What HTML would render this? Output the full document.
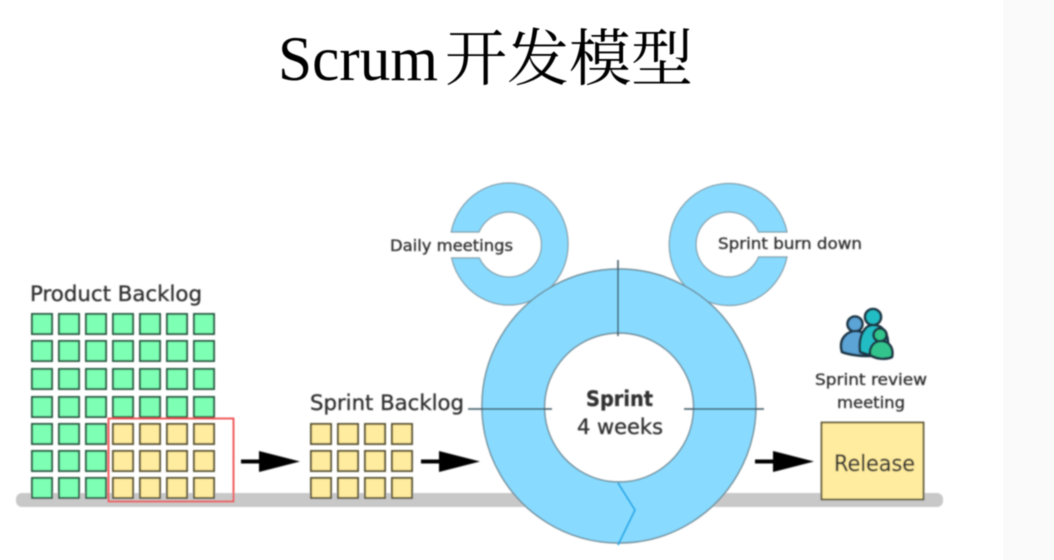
<!DOCTYPE html>
<html><head><meta charset="utf-8"><style>
html,body{margin:0;padding:0;background:#fff;width:1054px;height:560px;overflow:hidden}
svg{display:block}
text{font-family:"DejaVu Sans","Liberation Sans",sans-serif;fill:#333;stroke:#333;stroke-width:.35}
</style></head><body>
<svg width="1054" height="560" viewBox="0 0 1054 560" xmlns="http://www.w3.org/2000/svg">
<defs>
<filter id="b" x="-5%" y="-5%" width="110%" height="110%"><feGaussianBlur stdDeviation="0.7"/></filter>
<filter id="t" x="-5%" y="-5%" width="110%" height="110%"><feGaussianBlur stdDeviation="0.45"/></filter>
<g id="g"><rect x="1" y="1" width="20" height="20" fill="#7dffb4" stroke="#2a5a44" stroke-width="2"/></g>
<g id="y"><rect x="1" y="1" width="20" height="20" fill="#ffec9e" stroke="#5a5536" stroke-width="2"/></g>
<path id="ar" d="M0 -2H18V-10.500L59 0L18 10.500V2H0Z" fill="#000"/>
</defs>
<rect x="1003" y="0" width="51" height="560" fill="#fafafa"/>
<g filter="url(#t)">
<text x="278" y="80" style="font-family:'Liberation Serif',serif;fill:#000;stroke:none" font-size="64" textLength="160" lengthAdjust="spacingAndGlyphs">Scrum</text>
<text x="445" y="80" style="font-family:'Noto Serif CJK SC',serif;fill:#000;stroke:none" font-size="62" textLength="248" lengthAdjust="spacingAndGlyphs">开发模型</text>
</g>
<g filter="url(#b)">
<rect x="16" y="493" width="927" height="14" rx="6" fill="#c8c8c8"/>
<g>
<use href="#g" x="31" y="313"/><use href="#g" x="58" y="313"/><use href="#g" x="85" y="313"/><use href="#g" x="112" y="313"/><use href="#g" x="139" y="313"/><use href="#g" x="166" y="313"/><use href="#g" x="193" y="313"/>
<use href="#g" x="31" y="340"/><use href="#g" x="58" y="340"/><use href="#g" x="85" y="340"/><use href="#g" x="112" y="340"/><use href="#g" x="139" y="340"/><use href="#g" x="166" y="340"/><use href="#g" x="193" y="340"/>
<use href="#g" x="31" y="368"/><use href="#g" x="58" y="368"/><use href="#g" x="85" y="368"/><use href="#g" x="112" y="368"/><use href="#g" x="139" y="368"/><use href="#g" x="166" y="368"/><use href="#g" x="193" y="368"/>
<use href="#g" x="31" y="396"/><use href="#g" x="58" y="396"/><use href="#g" x="85" y="396"/><use href="#g" x="112" y="396"/><use href="#g" x="139" y="396"/><use href="#g" x="166" y="396"/><use href="#g" x="193" y="396"/>
<use href="#g" x="31" y="423"/><use href="#g" x="58" y="423"/><use href="#g" x="85" y="423"/>
<use href="#g" x="31" y="450"/><use href="#g" x="58" y="450"/><use href="#g" x="85" y="450"/>
<use href="#g" x="31" y="477"/><use href="#g" x="58" y="477"/><use href="#g" x="85" y="477"/>
</g>
<g>
<use href="#y" x="112" y="423"/><use href="#y" x="139" y="423"/><use href="#y" x="166" y="423"/><use href="#y" x="193" y="423"/>
<use href="#y" x="112" y="450"/><use href="#y" x="139" y="450"/><use href="#y" x="166" y="450"/><use href="#y" x="193" y="450"/>
<use href="#y" x="112" y="477"/><use href="#y" x="139" y="477"/><use href="#y" x="166" y="477"/><use href="#y" x="193" y="477"/>
<use href="#y" x="310" y="423"/><use href="#y" x="337" y="423"/><use href="#y" x="364" y="423"/><use href="#y" x="391" y="423"/>
<use href="#y" x="310" y="450"/><use href="#y" x="337" y="450"/><use href="#y" x="364" y="450"/><use href="#y" x="391" y="450"/>
<use href="#y" x="310" y="477"/><use href="#y" x="337" y="477"/><use href="#y" x="364" y="477"/><use href="#y" x="391" y="477"/>
</g>
<rect x="108.500" y="418.500" width="125" height="83" fill="none" stroke="#ee4a4c" stroke-width="1.800"/>
<use href="#ar" x="241" y="461.500"/><use href="#ar" x="421" y="461.500"/><use href="#ar" x="755" y="461.500"/>
<path d="M451.200 232A59 61 0 1 1 451.600 258H479.400A32.500 32.500 0 1 0 479 232Z" fill="#88dbff" stroke="#7f9aa6" stroke-width="1.200"/>
<path d="M787 232A59.500 61 0 1 0 787 257H758.500A32.500 32.500 0 1 1 758.500 232Z" fill="#88dbff" stroke="#7f9aa6" stroke-width="1.200"/>
<path d="M619 269A137 137 0 1 1 618.900 269ZM619 333A74.500 74.500 0 1 0 619.100 333Z" fill="#88dbff" stroke="#6e8a96" stroke-width="1.400" fill-rule="evenodd"/>
<path d="M618 260V336M468 409H552M684 409H764" stroke="#3a5560" stroke-width="1.500" fill="none"/>
<path d="M618 483L635 510L618 545" stroke="#12a8e8" stroke-width="1.800" fill="none"/>
<rect x="821.500" y="422.500" width="102" height="77" fill="#ffec9e" stroke="#5a5536" stroke-width="1.800"/>
<g stroke="#1f3644" stroke-width="2.600" stroke-linejoin="round">
<circle cx="855" cy="324" r="7.500" fill="#5ba3d6"/>
<path d="M842 352C838 338 848 331 856 331C866 331 870 340 870 356C860 356 850 355 842 352Z" fill="#5ba3d6"/>
<circle cx="873" cy="317" r="8" fill="#23bcc4"/>
<path d="M860 352C858 334 866 325 873 325C882 325 889 332 888 348L872 356Z" fill="#23bcc4"/>
<circle cx="880" cy="335" r="6.500" fill="#30c48c"/>
<path d="M870 355C869 347 874 341 881 341C889 341 894 348 892 357C885 360 876 359 870 355Z" fill="#30c48c"/>
</g>
<text x="30" y="301" font-size="21" textLength="172" lengthAdjust="spacingAndGlyphs">Product Backlog</text>
<text x="310" y="410" font-size="21" textLength="154" lengthAdjust="spacingAndGlyphs">Sprint Backlog</text>
<text x="390" y="251" font-size="16" textLength="123" lengthAdjust="spacingAndGlyphs">Daily meetings</text>
<text x="718" y="249" font-size="16" textLength="144" lengthAdjust="spacingAndGlyphs">Sprint burn down</text>
<text x="586" y="406" font-size="21" font-weight="bold" textLength="67" lengthAdjust="spacingAndGlyphs">Sprint</text>
<text x="577" y="434" font-size="21" textLength="86" lengthAdjust="spacingAndGlyphs">4 weeks</text>
<text x="815" y="385" font-size="16" textLength="112" lengthAdjust="spacingAndGlyphs">Sprint review</text>
<text x="837" y="408" font-size="16" textLength="68" lengthAdjust="spacingAndGlyphs">meeting</text>
<text x="834" y="471" font-size="22" textLength="81" lengthAdjust="spacingAndGlyphs">Release</text>
</g>
</svg>
</body></html>
